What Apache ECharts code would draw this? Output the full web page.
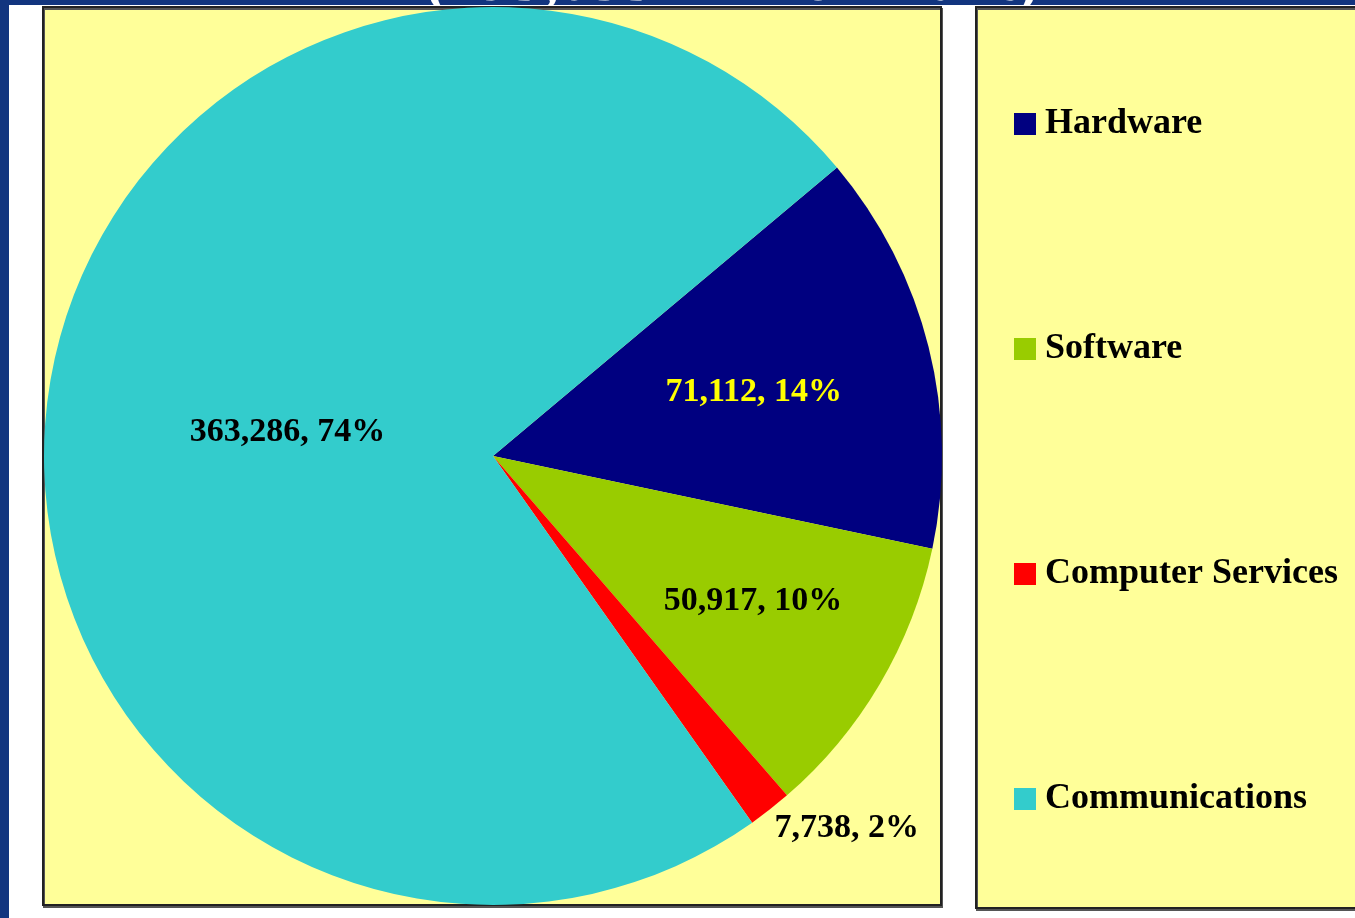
<!DOCTYPE html>
<html>
<head>
<meta charset="utf-8">
<script src="https://cdn.jsdelivr.net/npm/echarts@6/dist/echarts.min.js"></script>
<style>
  html, body { margin: 0; padding: 0; background: #ffffff; }
  #main { width: 1355px; height: 918px; }
</style>
</head>
<body>
<div id="main"></div>
<script>
// segments of the pie
const categories = ['Hardware', 'Software', 'Computer Services', 'Communications'];
const values = [71112, 50917, 7738, 363286];
const colors = ['#000080', '#99cc00', '#ff0000', '#33cccc'];
const labelColors = ['#ffff00', '#000000', '#000000', '#000000'];
const titleText = '(493,053 Million Baht)';

// label nudges (px) from the default spot
const labelShift = [[40, -9], [64, 30], [-14, 1], [20, 5]];

const chart = echarts.init(document.getElementById('main'), null, { renderer: 'canvas' });

const serif = '"Liberation Serif", "Times New Roman", serif';

const option = {
  animation: false,
  backgroundColor: '#ffffff',
  graphic: [
    { type: 'rect', z: 0, shape: { x: 0, y: 0, width: 1355, height: 918 }, style: { fill: '#12357f' } },
    {
      type: 'text', z: 1, x: 732, y: 15,
      style: {
        text: titleText, fill: '#ffffff', font: 'bold 64px ' + serif,
        textAlign: 'center', textVerticalAlign: 'bottom',
        shadowColor: 'rgba(0,0,0,0.5)', shadowOffsetX: 2, shadowOffsetY: 2, shadowBlur: 1
      }
    },
    { type: 'rect', z: 2, shape: { x: 9, y: 5, width: 1346, height: 913 }, style: { fill: '#ffffff' } },
    {
      type: 'rect', z: 3, shape: { x: 43, y: 7, width: 898, height: 898 },
      style: { fill: '#ffff99', stroke: '#222222', lineWidth: 2, shadowColor: '#555', shadowOffsetX: 1, shadowOffsetY: 2 }
    },
    {
      type: 'rect', z: 3, shape: { x: 976, y: 7, width: 420, height: 901 },
      style: { fill: '#ffff99', stroke: '#222222', lineWidth: 2, shadowColor: '#555', shadowOffsetX: 1, shadowOffsetY: 2 }
    }
  ],
  legend: {
    orient: 'vertical',
    left: 1009,
    top: 101,
    itemWidth: 22,
    itemHeight: 22,
    itemGap: 189,
    icon: 'rect',
    data: categories,
    textStyle: { fontFamily: serif, fontWeight: 'bold', fontSize: 36, color: '#000', lineHeight: 36, padding: [0, 0, 0, 4] }
  },
  series: [{
    type: 'pie',
    z: 10,
    center: [493, 456],
    radius: [0, 449],
    startAngle: 40,
    clockwise: true,
    avoidLabelOverlap: false,
    label: {
      position: 'inside',
      fontFamily: serif,
      fontWeight: 'bold',
      fontSize: 34,
      formatter: p => p.value.toLocaleString('en-US') + ', ' + Math.round(p.percent) + '%'
    },
    labelLine: { show: false },
    labelLayout: p => ({ dx: labelShift[p.dataIndex][0], dy: labelShift[p.dataIndex][1] }),
    emphasis: { disabled: true },
    data: categories.map((name, i) => {
      const item = {
        name: name,
        value: values[i],
        itemStyle: { color: colors[i] },
        label: { color: labelColors[i] }
      };
      if (i === 2) {
        item.label.position = 'outside';
        item.labelLine = { show: false, length: 22, length2: 0 };
      }
      return item;
    })
  }]
};

chart.setOption(option);
</script>
</body>
</html>
